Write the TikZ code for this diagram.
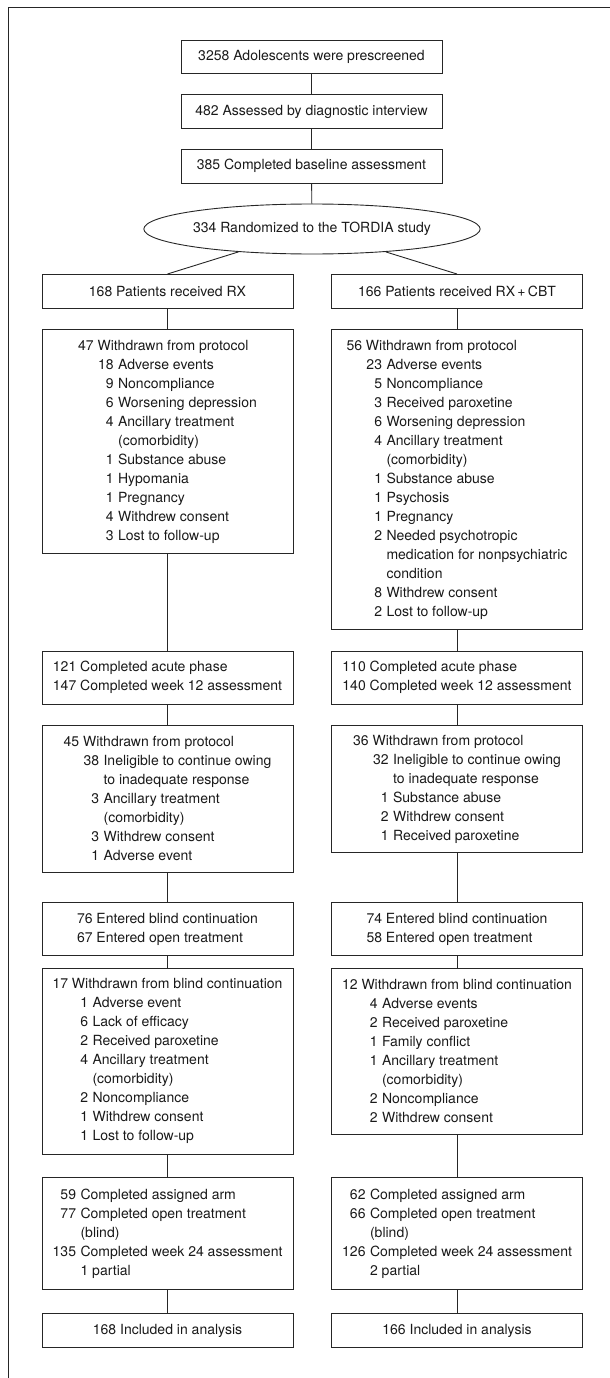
\documentclass[tikz,border=0pt]{standalone}
\usepackage{fontspec}
\setmainfont{TeX Gyre Heros}
\usetikzlibrary{shapes.geometric}
\newcommand{\reason}[3][35.5pt]{\makebox[#1][r]{#2}\hspace{4.5pt}#3}
\newcommand{\reasonmore}[2][40pt]{\hspace*{#1}#2}
\tikzset{%
  box/.style={draw=black!85,line width=0.9pt,anchor=north,minimum width=251pt,inner sep=0pt,align=left,text=black!90,font=\fontsize{14}{19}\selectfont},
  topbox/.style={box,minimum width=261pt,minimum height=33.5pt},
  oval/.style={draw=black!85,line width=0.9pt,shape=ellipse,minimum width=293pt,minimum height=50pt,inner sep=0pt,text=black!90,font=\fontsize{14}{19}\selectfont},
  link/.style={draw=black!85,line width=0.9pt}
}
\begin{document}
\begin{tikzpicture}[x=1pt,y=-1pt]
    \useasboundingbox (0,0) rectangle (610,1378);
    \draw[link] (8.5,1378) -- (8.5,7.5) -- (610,7.5);
    \path
      (311.5,40)  node (prescr)[topbox]{3258 Adolescents were prescreened}
      (311.5,94.3) node (assess)[topbox]{482 Assessed by diagnostic interview}
      (311.5,149) node (baseline)[topbox]{385 Completed baseline assessment}
      (312,229)   node (rand)[oval]{334 Randomized to the TORDIA study};
    % RX arm
    \path
      (167.5,274) node (rx)[box,minimum height=34pt]{168 Patients received RX}
      (167.5,329) node (rxwd)[box,minimum height=224pt]{47 Withdrawn from protocol\\
        \reason{18}{Adverse events}\\ \reason{9}{Noncompliance}\\
        \reason{6}{Worsening depression}\\ \reason{4}{Ancillary treatment}\\
        \reasonmore{(comorbidity)}\\ \reason{1}{Substance abuse}\\
        \reason{1}{Hypomania}\\ \reason{1}{Pregnancy}\\
        \reason{4}{Withdrew consent}\\ \reason{3}{Lost to follow-up}}
      (167.5,651) node (rxacute)[box,minimum height=52.5pt]{121 Completed acute phase\\147 Completed week 12 assessment}
      (167.5,725) node (rxwdb)[box,minimum height=147pt]{45 Withdrawn from protocol\\
        \reason{38}{Ineligible to continue owing}\\ \reasonmore{to inadequate response}\\
        \reason{3}{Ancillary treatment}\\ \reasonmore{(comorbidity)}\\
        \reason{3}{Withdrew consent}\\ \reason{1}{Adverse event}}
      (167.5,902) node (rxcont)[box,minimum height=53pt]{76 Entered blind continuation\\67 Entered open treatment}
      (167.5,968) node (rxwdc)[box,minimum height=185.5pt]{17 Withdrawn from blind continuation\\
        \reason{1}{Adverse event}\\ \reason{6}{Lack of efficacy}\\
        \reason{2}{Received paroxetine}\\ \reason{4}{Ancillary treatment}\\
        \reasonmore{(comorbidity)}\\ \reason{2}{Noncompliance}\\
        \reason{1}{Withdrew consent}\\ \reason{1}{Lost to follow-up}}
      (167.5,1177) node (rxdone)[box,minimum height=112pt]{\reason[23.5pt]{59}{Completed assigned arm}\\
        \reason[23.5pt]{77}{Completed open treatment}\\ \reasonmore[28pt]{(blind)}\\
        \reason[23.5pt]{135}{Completed week 24 assessment}\\ \reasonmore[28pt]{1 partial}}
      (167.5,1313.3) node (rxan)[box,minimum height=33.5pt]{168 Included in analysis};
    % RX+CBT arm
    \path
      (457,274) node (cbt)[box,minimum height=34pt]{166 Patients received RX\thinspace+\thinspace CBT}
      (457,329) node (cbtwd)[box,minimum height=300pt]{56 Withdrawn from protocol\\
        \reason{23}{Adverse events}\\ \reason{5}{Noncompliance}\\
        \reason{3}{Received paroxetine}\\ \reason{6}{Worsening depression}\\
        \reason{4}{Ancillary treatment}\\ \reasonmore{(comorbidity)}\\
        \reason{1}{Substance abuse}\\ \reason{1}{Psychosis}\\
        \reason{1}{Pregnancy}\\ \reason{2}{Needed psychotropic}\\
        \reasonmore{medication for nonpsychiatric}\\ \reasonmore{condition}\\
        \reason{8}{Withdrew consent}\\ \reason{2}{Lost to follow-up}}
      (457,651) node (cbtacute)[box,minimum height=52.5pt]{110 Completed acute phase\\140 Completed week 12 assessment}
      (457,725) node (cbtwdb)[box,minimum height=127pt]{36 Withdrawn from protocol\\
        \reason{32}{Ineligible to continue owing}\\ \reasonmore{to inadequate response}\\
        \reason{1}{Substance abuse}\\ \reason{2}{Withdrew consent}\\
        \reason{1}{Received paroxetine}}
      (457,902) node (cbtcont)[box,minimum height=53pt]{74 Entered blind continuation\\58 Entered open treatment}
      (457,968) node (cbtwdc)[box,minimum height=166pt]{12 Withdrawn from blind continuation\\
        \reason{4}{Adverse events}\\ \reason{2}{Received paroxetine}\\
        \reason{1}{Family conflict}\\ \reason{1}{Ancillary treatment}\\
        \reasonmore{(comorbidity)}\\ \reason{2}{Noncompliance}\\
        \reason{2}{Withdrew consent}}
      (457,1177) node (cbtdone)[box,minimum height=112pt]{\reason[23.5pt]{62}{Completed assigned arm}\\
        \reason[23.5pt]{66}{Completed open treatment}\\ \reasonmore[28pt]{(blind)}\\
        \reason[23.5pt]{126}{Completed week 24 assessment}\\ \reasonmore[28pt]{2 partial}}
      (457,1313.3) node (cbtan)[box,minimum height=33.5pt]{166 Included in analysis};
    \draw[link] (prescr) -- (assess);
    \draw[link] (assess) -- (baseline);
    \draw[link] (baseline) -- (rand);
    \draw[link] (rand) -- (rx.north);
    \draw[link] (rand) -- (cbt.north);
    \draw[link] (rx) -- (rxwd);
    \draw[link] (rxwd) -- (rxacute);
    \draw[link] (rxacute) -- (rxwdb);
    \draw[link] (rxwdb) -- (rxcont);
    \draw[link] (rxcont) -- (rxwdc);
    \draw[link] (rxwdc) -- (rxdone);
    \draw[link] (rxdone) -- (rxan);
    \draw[link] (cbt) -- (cbtwd);
    \draw[link] (cbtwd) -- (cbtacute);
    \draw[link] (cbtacute) -- (cbtwdb);
    \draw[link] (cbtwdb) -- (cbtcont);
    \draw[link] (cbtcont) -- (cbtwdc);
    \draw[link] (cbtwdc) -- (cbtdone);
    \draw[link] (cbtdone) -- (cbtan);
  \end{tikzpicture}
\end{document}
